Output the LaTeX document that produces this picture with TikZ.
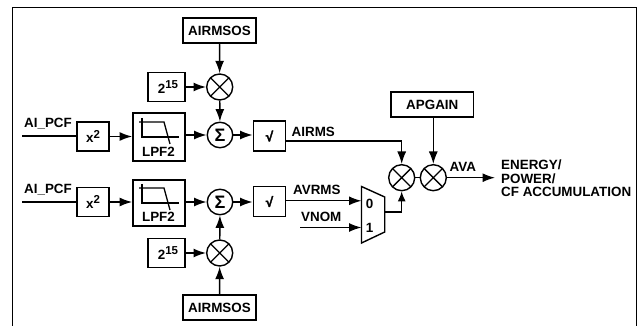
\documentclass[tikz,border=0pt]{standalone}
\usepackage{fontspec}
\setmainfont{Liberation Sans}
\newfontface\sqfont[FakeBold=2.5]{Liberation Sans Bold}
\usetikzlibrary{arrows.meta}
\newcommand{\supr}[1]{\raisebox{0.36em}{\fontsize{11.5pt}{11.5pt}\selectfont #1}}
\newcommand{\sqsym}{{\sqfont √}}
\begin{document}
\begin{tikzpicture}[x=1pt,y=-1pt,
 every node/.style={font=\fontsize{13.4pt}{14pt}\selectfont\bfseries,inner sep=0pt},
 blockbox/.style={draw=black,line width=1.4pt,fill=white,rectangle,anchor=center},
 mult/.style={draw=black,line width=1.4pt,fill=white,circle,minimum size=26pt,path picture={
   \draw[line width=1.3pt] (path picture bounding box.north west)--(path picture bounding box.south east)
   (path picture bounding box.north east)--(path picture bounding box.south west);}},
 summer/.style={draw=black,line width=1.4pt,fill=white,circle,minimum size=25.5pt,font=\fontsize{18pt}{18pt}\selectfont\bfseries},
 wire/.style={line width=1.4pt},
 arr/.style={line width=1.4pt,-{Latex[length=12.5pt,width=9pt]}},
 lbl/.style={anchor=base west}]
\useasboundingbox (0,0) rectangle (641,326);
\draw[line width=1.9pt] (12.5,326) -- (12.5,7.5) -- (636.5,7.5) -- (636.5,326);
% top branch
\node[blockbox,minimum width=73pt,minimum height=25pt] (os1) at (219.5,30.5) {AIRMSOS};
\node[blockbox,minimum width=37pt,minimum height=29.5pt] (p1) at (166.5,87) {\hspace{3pt}2\supr{15}};
\node[mult] (m1) at (219.7,87) {};
\node[summer] (s1) at (220,135) {Σ};
\node[blockbox,minimum width=32pt,minimum height=29pt] (x1) at (93,136.5) {x\supr{2}};
\node[blockbox,minimum width=52pt,minimum height=48pt,line width=1.8pt] (l1) at (159,137) {};
\node[anchor=base] at (158.5,156.5) {LPF2};
\node[blockbox,minimum width=32.5pt,minimum height=30pt] (r1) at (269.5,136) {\sqsym};
\coordinate (in1) at (22,136);
\coordinate (c1) at (401.7,141);
% bottom branch
\node[blockbox,minimum width=73pt,minimum height=25pt] (os2) at (219.5,307.5) {AIRMSOS};
\node[blockbox,minimum width=37pt,minimum height=29.5pt] (p2) at (166.5,253) {\hspace{3pt}2\supr{15}};
\node[mult] (m2) at (219.7,253) {};
\node[summer] (s2) at (220,202) {Σ};
\node[blockbox,minimum width=32pt,minimum height=29pt] (x2) at (93,202) {x\supr{2}};
\node[blockbox,minimum width=52pt,minimum height=46pt,line width=1.8pt] (l2) at (159,203) {};
\node[anchor=base] at (158.5,221.5) {LPF2};
\node[blockbox,minimum width=32.5pt,minimum height=29.5pt] (r2) at (269.5,201.5) {\sqsym};
\coordinate (in2) at (22,202);
\coordinate (vn) at (300,227.5);
% filter glyphs
\foreach \y in {0,66}{
 \draw[line width=1.3pt] (139,122+\y) -- (164,122+\y) -- (170,144+\y);
 \draw[line width=1.3pt] (142,118+\y) -- (142,137+\y) -- (179,137+\y);
}
% connectors
\draw[arr] (os1) -- (m1);
\draw[arr] (p1) -- (m1);
\draw[arr] (m1) -- (s1);
\draw[wire] (in1) -- (x1.west |- in1);
\draw[arr] (x1) -- (l1.west |- x1);
\draw[arr] (l1.east |- s1) -- (s1);
\draw[arr] (s1) -- (r1.west |- s1);
\draw[arr] (os2) -- (m2);
\draw[arr] (p2) -- (m2);
\draw[arr] (m2) -- (s2);
\draw[wire] (in2) -- (x2);
\draw[arr] (x2) -- (l2.west |- x2);
\draw[arr] (l2.east |- s2) -- (s2);
\draw[arr] (s2) -- (r2.west |- s2);
% mux
\draw[line width=1.4pt,fill=white] (361.5,186.5) -- (384.7,197) -- (384.7,232) -- (361.5,243) -- cycle;
\coordinate (mux0) at (361.5,200.8);
\coordinate (mux1) at (361.5,227.5);
\coordinate (muxo) at (384.7,212);
\node at (369.5,203.5) {0};
\node at (369.5,227.5) {1};
% right
\node[mult] (m3) at (401.7,177.7) {};
\node[mult] (m4) at (433.3,177.7) {};
\node[blockbox,minimum width=82.5pt,minimum height=25pt] (ap) at (432.3,104.5) {APGAIN};
\coordinate (oe) at (495,177.7);
\draw[wire] (r1.east |- c1) -- (c1);
\draw[arr] (c1) -- (m3);
\draw[arr] (r2.east |- mux0) -- (mux0);
\draw[arr] (vn) -- (mux1);
\coordinate (mj) at (m3.south |- muxo);
\draw[line width=1.4pt] (muxo) -- (mj);
\draw[line width=1.4pt,-{Latex[length=10pt,width=8pt]}] (mj) -- (m3.south);
\draw[wire] (m3) -- (m4);
\draw[arr] (ap.south -| m4) -- (m4);
\draw[arr] (m4) -- (oe);
% labels
\node[lbl] at (24,128) {AI\_PCF};
\node[lbl] at (24,194) {AI\_PCF};
\node[lbl] at (291.5,137) {AIRMS};
\node[lbl] at (293,195) {AVRMS};
\node[lbl] at (301,222) {VNOM};
\node[lbl] at (449.5,172) {AVA};
\node[lbl] at (501,170) {ENERGY/};
\node[lbl] at (501,183.5) {POWER/};
\node[lbl] at (501,197) {CF ACCUMULATION};
\end{tikzpicture}
\end{document}
